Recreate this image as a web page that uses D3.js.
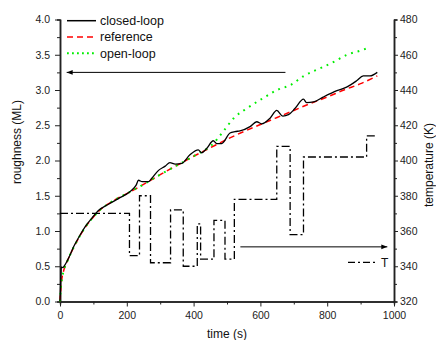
<!DOCTYPE html>
<html>
<head>
<meta charset="utf-8">
<script src="https://cdn.jsdelivr.net/npm/d3@7"></script>
<style>
  body { margin: 0; background: #fff; }
  svg { font-family: "Liberation Sans", Arial, sans-serif; }
  .axis path, .axis line { stroke: #222; }
  .axis text { fill: #222; font-size: 10.5px; }
</style>
</head>
<body>
<div id="graf"></div>
<script>
// datos
closedT = [0, 2, 4, 8, 15, 22, 30, 40, 55, 75, 95, 115, 145, 175, 210, 228, 235, 246, 265, 275, 295, 315, 329, 345, 365, 389, 414, 424, 439, 459, 469, 484, 509, 524, 539, 569, 589, 604, 629, 649, 667, 684, 704, 729, 738, 759, 788, 829, 858, 888, 908, 928, 950]
closedR = [0, 0.25, 0.49, 0.48, 0.52, 0.58, 0.66, 0.77, 0.9, 1.06, 1.18, 1.29, 1.38, 1.46, 1.56, 1.65, 1.72, 1.70, 1.70, 1.75, 1.86, 1.92, 1.97, 1.95, 1.96, 2.08, 2.15, 2.11, 2.17, 2.28, 2.24, 2.24, 2.39, 2.41, 2.42, 2.48, 2.55, 2.52, 2.6, 2.71, 2.63, 2.65, 2.74, 2.87, 2.82, 2.83, 2.9, 2.99, 3.04, 3.13, 3.2, 3.2, 3.25]

refT = [0, 2, 5, 10, 20, 30, 50, 75, 100, 125, 150, 175, 200, 250, 300, 350, 400, 450, 500, 550, 600, 650, 700, 750, 800, 850, 900, 950]
refR = [0, 0.15, 0.3, 0.42, 0.55, 0.66, 0.85, 1.05, 1.2, 1.32, 1.4, 1.47, 1.53, 1.66, 1.8, 1.93, 2.06, 2.18, 2.3, 2.41, 2.51, 2.61, 2.71, 2.81, 2.9, 3.0, 3.09, 3.2]

openT = [0, 2, 5, 10, 20, 30, 50, 75, 100, 125, 150, 175, 200, 250, 300, 350, 400, 430, 450, 470, 490, 520, 560, 610, 650, 690, 730, 780, 820, 860, 900, 925]
openR = [0, 0.15, 0.3, 0.42, 0.55, 0.66, 0.85, 1.05, 1.2, 1.32, 1.4, 1.47, 1.53, 1.66, 1.8, 1.93, 2.06, 2.14, 2.2, 2.3, 2.42, 2.6, 2.74, 2.89, 3.0, 3.07, 3.2, 3.31, 3.4, 3.5, 3.56, 3.6]

tempT = [0, 208, 238, 271, 331, 369, 411, 421, 461, 494, 522, 649, 689, 729, 918, 946]
tempK = [370, 346, 380, 342, 372, 340, 364, 344, 366, 344, 378, 408, 358, 402, 414, 414]

leyenda = ['closed-loop', 'reference', 'open-loop']

// flechas: hacia eje izquierdo (rugosidad) y hacia eje derecho (temperatura)
flechaIzq = [[675, 3.25], [20, 3.25]]
flechaDer = [[540, 351], [980, 351]]

// configuracion
ancho_total = 436
alto_total = 340
margins = { top: 19.5, left: 60, right: 42, bottom: 38.5 }
ancho = ancho_total - margins.left - margins.right
alto = alto_total - margins.top - margins.bottom

svg = d3.select('#graf').append('svg')
        .attr('width', ancho_total)
        .attr('height', alto_total)

defs = svg.append('defs')
defs.append('marker')
        .attr('id', 'punta')
        .attr('viewBox', '0 0 10 10')
        .attr('refX', 10).attr('refY', 5)
        .attr('markerWidth', 7).attr('markerHeight', 6)
        .attr('markerUnits', 'userSpaceOnUse')
        .attr('orient', 'auto')
        .append('path')
        .attr('d', 'M0,1 L10,5 L0,9 Z')
        .attr('fill', '#000')

g = svg.append('g')
        .attr('transform', `translate(${margins.left}, ${margins.top})`)

x = d3.scaleLinear().domain([0, 1000]).range([0, ancho])
y = d3.scaleLinear().domain([0, 4]).range([alto, 0])
y2 = d3.scaleLinear().domain([320, 480]).range([alto, 0])

// ejes: menores
g.append('g').attr('class', 'axis')
        .attr('transform', `translate(0, ${alto})`)
        .call(d3.axisBottom(x).tickValues(d3.range(100, 1000, 200)).tickSize(3).tickFormat(''))
g.append('g').attr('class', 'axis')
        .call(d3.axisLeft(y).tickValues(d3.range(0.25, 4, 0.5)).tickSize(3).tickFormat(''))
g.append('g').attr('class', 'axis')
        .attr('transform', `translate(${ancho}, 0)`)
        .call(d3.axisRight(y2).tickValues(d3.range(330, 480, 20)).tickSize(3).tickFormat(''))

// ejes: mayores
g.append('g').attr('class', 'axis')
        .attr('transform', `translate(0, ${alto})`)
        .call(d3.axisBottom(x).tickValues(d3.range(0, 1001, 200)).tickFormat(d3.format('d')).tickSize(5).tickSizeOuter(0).tickPadding(5))
g.append('g').attr('class', 'axis')
        .call(d3.axisLeft(y).tickValues(d3.range(0, 4.01, 0.5)).tickFormat(d3.format('.1f')).tickSize(5).tickSizeOuter(0).tickPadding(5))
g.append('g').attr('class', 'axis')
        .attr('transform', `translate(${ancho}, 0)`)
        .call(d3.axisRight(y2).tickValues(d3.range(320, 481, 20)).tickSize(4).tickSizeOuter(0).tickPadding(2))

g.selectAll('.axis path').attr('stroke-width', 1.5)

// lineas
linea = d3.line()
        .x(d => x(d[0]))
        .y(d => y(d[1]))
        .curve(d3.curveMonotoneX)

g.append('path')
        .datum(d3.zip(refT, refR))
        .attr('d', linea)
        .attr('fill', 'none')
        .attr('stroke', '#ff0000')
        .attr('stroke-width', 1.5)
        .attr('stroke-dasharray', '6,4')

g.append('path')
        .datum(d3.zip(openT, openR))
        .attr('d', linea)
        .attr('fill', 'none')
        .attr('stroke', '#00ee00')
        .attr('stroke-width', 2)
        .attr('stroke-dasharray', '1.8,5')

g.append('path')
        .datum(d3.zip(closedT, closedR))
        .attr('d', linea)
        .attr('fill', 'none')
        .attr('stroke', '#000')
        .attr('stroke-width', 1.3)

lineaT = d3.line()
        .x(d => x(d[0]))
        .y(d => y2(d[1]))
        .curve(d3.curveStepAfter)

g.append('path')
        .datum(d3.zip(tempT, tempK))
        .attr('d', lineaT)
        .attr('fill', 'none')
        .attr('stroke', '#000')
        .attr('stroke-width', 1.3)
        .attr('stroke-dasharray', '8,3,2,3')

// flechas
g.append('line')
        .attr('x1', x(flechaIzq[0][0])).attr('y1', y(flechaIzq[0][1]))
        .attr('x2', x(flechaIzq[1][0])).attr('y2', y(flechaIzq[1][1]))
        .attr('stroke', '#000').attr('stroke-width', 1)
        .attr('marker-end', 'url(#punta)')
g.append('line')
        .attr('x1', x(flechaDer[0][0])).attr('y1', y2(flechaDer[0][1]))
        .attr('x2', x(flechaDer[1][0])).attr('y2', y2(flechaDer[1][1]))
        .attr('stroke', '#000').attr('stroke-width', 1)
        .attr('marker-end', 'url(#punta)')

// leyenda
estilos = [
        { color: '#000', dash: null, w: 1.5 },
        { color: '#ff0000', dash: '6,4', w: 1.5 },
        { color: '#00ee00', dash: '1.8,3.2', w: 2 }
]
leg = svg.append('g').attr('transform', 'translate(67, 20.7)')
leyenda.forEach((d, i) => {
        leg.append('line')
                .attr('x1', 0).attr('x2', 29)
                .attr('y1', i * 16.3).attr('y2', i * 16.3)
                .attr('stroke', estilos[i].color)
                .attr('stroke-width', estilos[i].w)
                .attr('stroke-dasharray', estilos[i].dash)
        leg.append('text')
                .attr('x', 33).attr('y', i * 16.3 + 4.3)
                .style('font-size', '12.5px').attr('fill', '#111')
                .text(d)
})

svg.append('line')
        .attr('x1', 348).attr('x2', 375).attr('y1', 262.3).attr('y2', 262.3)
        .attr('stroke', '#000').attr('stroke-width', 1.3)
        .attr('stroke-dasharray', '7,3,2,3')
svg.append('text')
        .attr('x', 381).attr('y', 266.7)
        .style('font-size', '12px').attr('fill', '#111')
        .text('T')

// titulos
svg.append('text')
        .attr('transform', 'translate(21, 142) rotate(-90)')
        .attr('text-anchor', 'middle')
        .style('font-size', '12px').attr('fill', '#111')
        .text('roughness (ML)')
svg.append('text')
        .attr('transform', 'translate(433, 165) rotate(-90)')
        .attr('text-anchor', 'middle')
        .style('font-size', '12px').attr('fill', '#111')
        .text('temperature (K)')
svg.append('text')
        .attr('x', margins.left + ancho / 2).attr('y', 338)
        .attr('text-anchor', 'middle')
        .style('font-size', '12px').attr('fill', '#111')
        .text('time (s)')
</script>
</body>
</html>
